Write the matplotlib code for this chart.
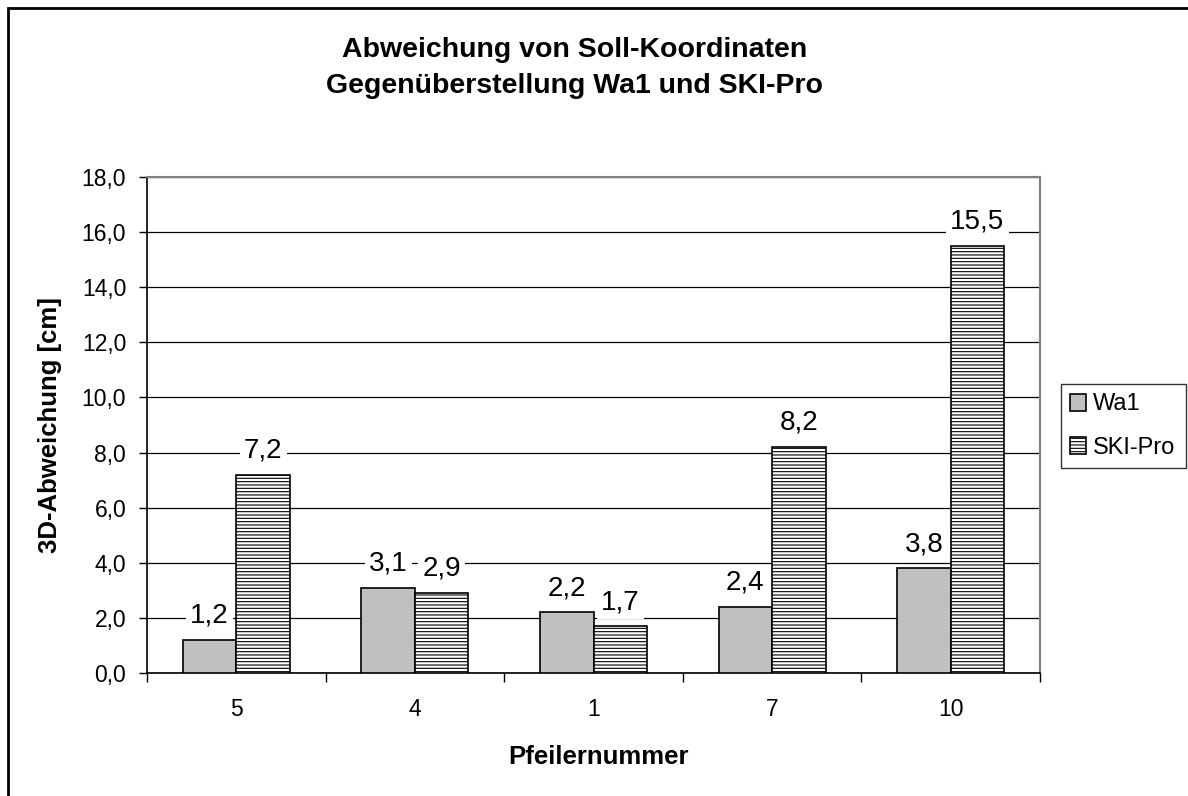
import numpy as np
import matplotlib.pyplot as plt
from matplotlib.patches import Rectangle

# Daten
pfeiler = ["5", "4", "1", "7", "10"]
wa1 = [1.2, 3.1, 2.2, 2.4, 3.8]
ski_pro = [7.2, 2.9, 1.7, 8.2, 15.5]
y_ticks = [0, 2, 4, 6, 8, 10, 12, 14, 16, 18]

plt.rcParams['font.family'] = ['Liberation Sans', 'DejaVu Sans']
plt.rcParams['hatch.linewidth'] = 0.8

fig = plt.figure(figsize=(11.88, 7.96), dpi=100)
ax = fig.add_axes([147/1188, 1-673/796, (1040-147)/1188, (673-177)/796])

x = np.arange(len(pfeiler))
w = 0.3
b1 = ax.bar(x - w/2, wa1, w, color='#C0C0C0', edgecolor='black', linewidth=1.2, label='Wa1', zorder=3)
b2 = ax.bar(x + w/2, ski_pro, w, color='white', edgecolor='black', linewidth=1.2,
            hatch='-----', label='SKI-Pro', zorder=3)

def fmt(v):
    return f"{v:.1f}".replace('.', ',')

for bars, vals in ((b1, wa1), (b2, ski_pro)):
    for r, v in zip(bars, vals):
        ax.annotate(fmt(v), (r.get_x() + r.get_width()/2, v), xytext=(0, 8),
                    textcoords='offset points', ha='center', va='bottom', fontsize=20,
                    bbox=dict(boxstyle='square,pad=0.15', fc='white', ec='none'), zorder=4)

ax.set_ylim(0, 18)
ax.set_xlim(-0.5, len(pfeiler) - 0.5)
ax.set_yticks(y_ticks)
ax.set_yticklabels([fmt(t) for t in y_ticks], fontsize=16.5)
ax.set_xticks(x)
ax.set_xticklabels(pfeiler, fontsize=16.5)
ax.tick_params(axis='x', length=0, pad=18)
ax.set_xticks(np.arange(-0.5, len(pfeiler)), minor=True)
ax.tick_params(axis='x', which='minor', length=6.5, width=1, direction='out')
ax.tick_params(axis='y', length=6, width=1, direction='out', pad=9)
ax.grid(axis='y', color='black', linewidth=0.9, zorder=0)
ax.set_axisbelow(True)
for s in ('top', 'right'):
    ax.spines[s].set_color('#808080')
    ax.spines[s].set_linewidth(1.5)
for s in ('left', 'bottom'):
    ax.spines[s].set_color('black')
    ax.spines[s].set_linewidth(1.2)

fig.text(575/1188, 1-50/796, "Abweichung von Soll-Koordinaten", ha='center', va='center',
         fontsize=20.5, fontweight='bold')
fig.text(575/1188, 1-86/796, "Gegenüberstellung Wa1 und SKI-Pro", ha='center', va='center',
         fontsize=20.5, fontweight='bold')
fig.text(50/1188, 1-425/796, "3D-Abweichung [cm]", rotation=90, ha='center', va='center',
         fontsize=18.5, fontweight='bold')
fig.text(599/1188, 1-757/796, "Pfeilernummer", ha='center', va='center',
         fontsize=18.5, fontweight='bold')

leg = fig.legend(handles=[b1, b2], loc='upper left',
                 bbox_to_anchor=(1061/1188, 1-468/796, (1186-1061)/1188, (468-384)/796),
                 mode='expand', frameon=True, fancybox=False, fontsize=17,
                 handlelength=0.65, handleheight=0.75, handletextpad=0.3,
                 borderpad=0.4, labelspacing=0.9, borderaxespad=0)
leg.get_frame().set_edgecolor('black')
leg.get_frame().set_linewidth(1.0)

fig.patches.append(Rectangle((8/1188, -0.1), 1.2, 1-8/796 + 0.1, transform=fig.transFigure,
                             fill=False, ec='black', lw=2))

fig.savefig('out.png', dpi=100)
